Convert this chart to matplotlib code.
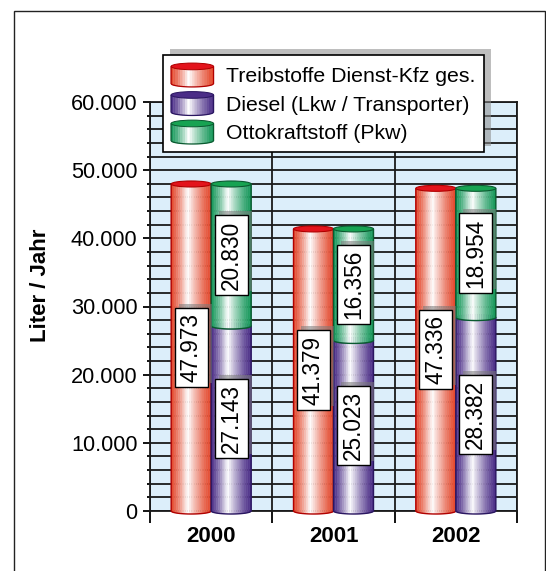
import matplotlib
matplotlib.use("Agg")
import matplotlib.pyplot as plt
import matplotlib.colors as mcolors
import numpy as np
from matplotlib.patches import Polygon, Ellipse, Rectangle, Patch
from matplotlib.legend_handler import HandlerBase
from matplotlib.ticker import MultipleLocator, FuncFormatter

plt.rcParams["font.family"] = ["Liberation Sans", "DejaVu Sans"]

years = ["2000", "2001", "2002"]
total = [47973, 41379, 47336]
diesel = [27143, 25023, 28382]
otto = [20830, 16356, 18954]
series_names = ["Treibstoffe Dienst-Kfz ges.", "Diesel (Lkw / Transporter)", "Ottokraftstoff (Pkw)"]

# edge colour, outline, top cap
red_style = ("#E4482C", "#B00000", "#E3141C")
purple_style = ("#4B2D87", "#2A1660", "#4B2D87")
green_style = ("#16985A", "#0A5A30", "#17A352")

FS = 15.7


def shade(edge, u, peak=0.42):
    t = (peak - u) / peak if u < peak else (u - peak) / (1 - peak)
    f = (1 - t) ** 1.3
    c = np.array(mcolors.to_rgb(edge))
    return tuple(c * (1 - f) + f)


def cylinder(x0, y0, w, h, ry, style, z, n=22, lw=1.0):
    edge, outline, cap = style
    rx = w / 2
    cx = x0 + rx
    top = y0 + h

    def arc(x):
        return y0 - ry * np.sqrt(np.clip(1 - ((x - cx) / rx) ** 2, 0, 1))

    arts = []
    xe = np.linspace(x0, x0 + w, n + 1)
    for i in range(n):
        xs = np.linspace(xe[i], xe[i + 1], 4)
        col = shade(edge, (i + 0.5) / n)
        pts = [(xe[i], top), (xe[i + 1], top)] + [(x, arc(x)) for x in xs[::-1]]
        arts.append(Polygon(pts, closed=True, facecolor=col, edgecolor=col, lw=0.3, zorder=z))
    xs = np.linspace(x0, x0 + w, 60)
    pts = [(x0, top)] + [(x, arc(x)) for x in xs] + [(x0 + w, top)]
    arts.append(Polygon(pts, closed=False, fill=False, edgecolor=outline, lw=lw, zorder=z + 0.1))
    arts.append(Ellipse((cx, top), w, 2 * ry, facecolor=cap, edgecolor=outline, lw=lw * 0.8, zorder=z + 0.2))
    return arts


class CylinderHandler(HandlerBase):
    def __init__(self, style):
        super().__init__()
        self.style = style

    def legend_artist(self, legend, orig_handle, fontsize, handlebox):
        x0, y0 = -handlebox.xdescent, -handlebox.ydescent
        w, h = handlebox.width, handlebox.height
        ry = 0.14 * h
        arts = cylinder(x0, y0 + ry, w, h - 2 * ry, ry, self.style, 1, n=18, lw=0.9)
        for a in arts:
            a.set_transform(handlebox.get_transform())
            handlebox.add_artist(a)
        return arts[0]


fig = plt.figure(figsize=(5.46, 5.71), dpi=100)
ax = fig.add_axes([150 / 546, 1 - 511 / 571, 367 / 546, 409 / 571])
ax.set_facecolor("#DCEEFA")

x = np.arange(len(years))
bw = 40 / 122.33
ry = 3.0 / 409 * 60000

b_total = ax.bar(x - bw / 2, total, bw, color="none", edgecolor="none")
b_diesel = ax.bar(x + bw / 2, diesel, bw, color="none", edgecolor="none")
b_otto = ax.bar(x + bw / 2, otto, bw, bottom=diesel, color="none", edgecolor="none")

for k, (cont, style) in enumerate([(b_total, red_style), (b_diesel, purple_style), (b_otto, green_style)]):
    for r in cont:
        for a in cylinder(r.get_x(), r.get_y(), r.get_width(), r.get_height(), ry, style, 3 + k):
            a.set_clip_on(False)
            ax.add_patch(a)

labels = []


def value_label(xv, yv, v):
    s = f"{v:,}".replace(",", ".")
    t = ax.text(xv, yv, s, color="black", zorder=9, rotation=90, ha="center", va="center",
                rotation_mode="anchor", fontsize=16.3,
                bbox=dict(boxstyle="square,pad=0.22", fc="white", ec="black", lw=1.0))
    labels.append(t)


for i in range(len(years)):
    value_label(x[i] - bw / 2, total[i] / 2, total[i])
    value_label(x[i] + bw / 2, diesel[i] / 2, diesel[i])
    value_label(x[i] + bw / 2, diesel[i] + otto[i] / 2, otto[i])

ax.set_xlim(-0.5, 2.5)
ax.set_ylim(0, 60000)
ax.yaxis.set_major_locator(MultipleLocator(10000))
ax.yaxis.set_minor_locator(MultipleLocator(2000))
ax.yaxis.set_major_formatter(FuncFormatter(lambda v, p: f"{int(v):,}".replace(",", ".")))
ax.set_xticks(x)
ax.set_xticklabels(years, fontsize=16, fontweight="bold")
ax.set_xticks([-0.5, 0.5, 1.5, 2.5], minor=True)
ax.set_axisbelow(True)
ax.grid(which="both", axis="y", color="#1A1A1A", lw=1.3)
ax.grid(which="minor", axis="x", color="#1A1A1A", lw=1.3)
ax.tick_params(axis="y", which="major", length=5, width=1.3, pad=4.0, labelsize=FS)
ax.tick_params(axis="y", which="minor", length=2.5, width=1.3)
ax.tick_params(axis="x", which="major", length=0, pad=11)
ax.tick_params(axis="x", which="minor", length=8.5, width=1.3)
for sp in ax.spines.values():
    sp.set_linewidth(1.3)
    sp.set_color("#1A1A1A")

fig.text(40 / 546, 1 - 285 / 571, "Liter / Jahr", rotation=90, ha="center", va="center",
         fontsize=16, fontweight="bold")

handles = [Patch(), Patch(), Patch()]
hmap = {h: CylinderHandler(s) for h, s in zip(handles, [red_style, purple_style, green_style])}
leg = fig.legend(handles, series_names, handler_map=hmap, loc="upper left",
                 bbox_to_anchor=(163 / 546, 1 - 55 / 571), fontsize=15.3, handlelength=2.0,
                 handleheight=1.35, handletextpad=0.6, labelspacing=0.22, borderpad=0.38,
                 borderaxespad=0, fancybox=False, framealpha=1, edgecolor="black")
leg.get_frame().set_linewidth(1.2)

# drop shadows (up and to the right) for the legend and the value boxes
fig.canvas.draw()
inv = fig.transFigure.inverted()
bb = leg.get_window_extent().transformed(inv)
fig.add_artist(Rectangle((bb.x0 + 7 / 546, bb.y0 + 6 / 571), bb.width, bb.height,
                         transform=fig.transFigure, fc="#8A8A8A", ec="none", alpha=0.55, zorder=4.5))
for t in labels:
    tb = t.get_bbox_patch().get_window_extent().transformed(inv)
    sh = Rectangle((tb.x0 + 4 / 546, tb.y0 + 4 / 571), tb.width, tb.height,
                   transform=fig.transFigure, fc="#7A7A7A", ec="none", alpha=0.55, zorder=8.5)
    sh.set_clip_on(False)
    ax.add_artist(sh)

fig.add_artist(Rectangle((13.5 / 546, -0.1), (545 - 13.5) / 546, 1.1 - 10.5 / 571,
                         transform=fig.transFigure, fill=False, ec="#222222", lw=1.0))

fig.savefig("out.png", dpi=100)
